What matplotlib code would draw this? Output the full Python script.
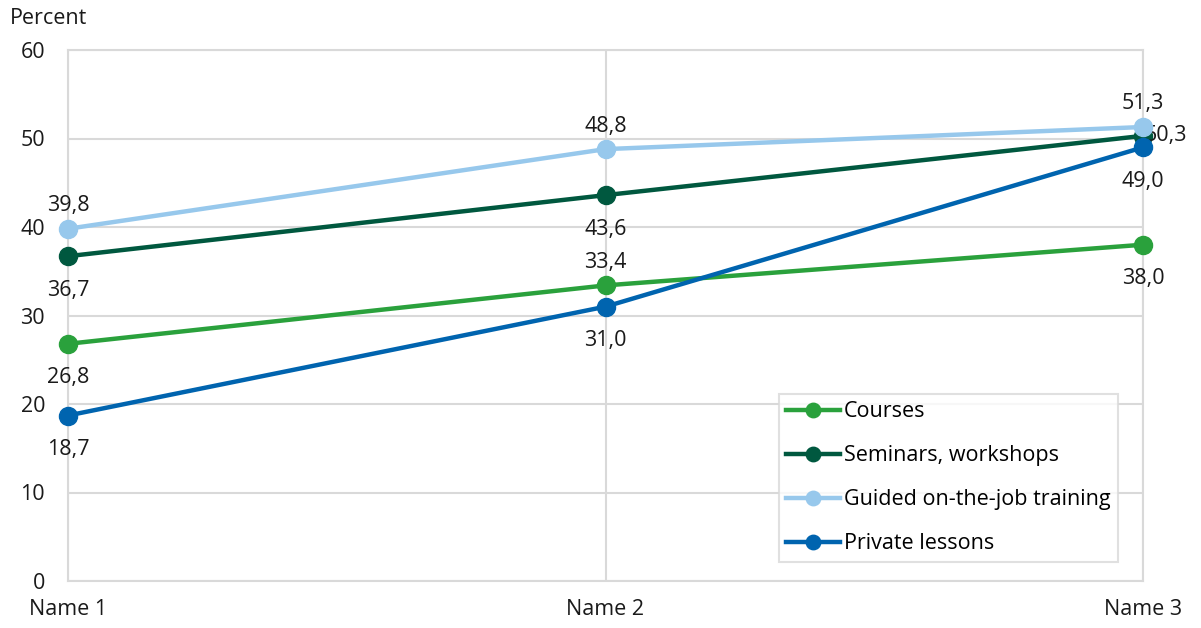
import matplotlib
matplotlib.use("Agg")
import matplotlib.pyplot as plt

categories = ["Name 1", "Name 2", "Name 3"]
courses = [26.8, 33.4, 38.0]
seminars = [36.7, 43.6, 50.3]
guided = [39.8, 48.8, 51.3]
private = [18.7, 31.0, 49.0]

series = [
    ("Courses", courses, "#2AA13C", ["below", "above", "below"]),
    ("Seminars, workshops", seminars, "#00583F", ["below", "below", "right"]),
    ("Guided on-the-job training", guided, "#97C8EC", ["above", "above", "above"]),
    ("Private lessons", private, "#0064AF", ["below", "below", "below"]),
]

plt.rcParams["font.family"] = ["Open Sans", "DejaVu Sans"]
grid_color = "#D9D9D9"
fs = 15.5

fig = plt.figure(figsize=(12.01, 6.28), dpi=100)
ax = fig.add_axes([68 / 1201, 1 - 581 / 628, 1075 / 1201, 531 / 628])

x = list(range(len(categories)))
for name, values, color, places in series:
    ax.plot(x, values, color=color, lw=3.2, marker="o", markersize=13,
            label=name, clip_on=False, zorder=3)
    for xi, v, place in zip(x, values, places):
        text = f"{v:.1f}".replace(".", ",")
        if place == "above":
            ax.annotate(text, (xi, v), xytext=(0, 9), textcoords="offset points",
                        ha="center", va="bottom", fontsize=fs, color="#1a1a1a")
        elif place == "below":
            ax.annotate(text, (xi, v), xytext=(0, -17), textcoords="offset points",
                        ha="center", va="top", fontsize=fs, color="#1a1a1a")
        else:
            ax.annotate(text, (xi, v), xytext=(1, 0), textcoords="offset points",
                        ha="left", va="center", fontsize=fs, color="#1a1a1a")

ax.set_xlim(0, 2)
ax.set_ylim(0, 60)
ax.set_yticks(range(0, 61, 10))
ax.set_xticks(x)
ax.set_xticklabels(categories)
ax.tick_params(length=0, labelsize=fs, colors="#1a1a1a")
ax.tick_params(axis="y", pad=16.5)
ax.tick_params(axis="x", pad=13)
ax.grid(color=grid_color, lw=1.5, zorder=0)
for spine in ax.spines.values():
    spine.set_color(grid_color)
    spine.set_linewidth(1.5)

leg = ax.legend(loc="lower left", bbox_to_anchor=(0.661, 0.036), fontsize=fs,
                frameon=True, fancybox=False, edgecolor=grid_color,
                handlelength=2.5, handletextpad=0.2, labelspacing=1.07,
                borderpad=0.35, borderaxespad=0, markerscale=0.8)
leg.get_frame().set_linewidth(1.5)

fig.text(10 / 1201, 1 - 18 / 628, "Percent", fontsize=fs, va="center",
         ha="left", color="#1a1a1a")

fig.savefig("out.png", dpi=100)
